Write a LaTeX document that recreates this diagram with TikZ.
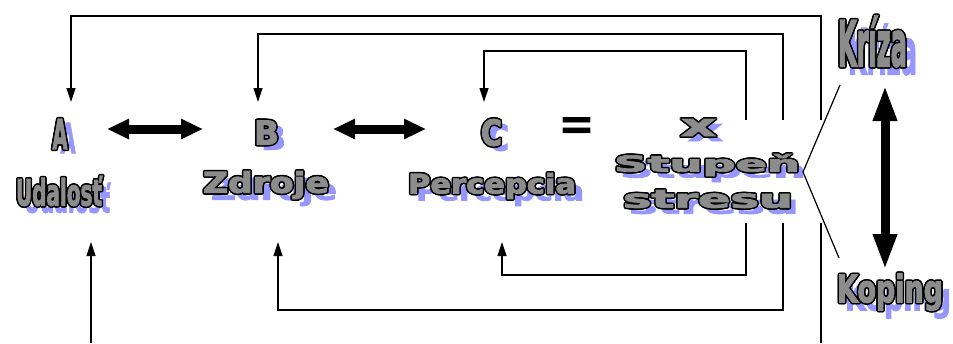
\documentclass[tikz,border=0pt]{standalone}
\usepackage{fontspec}
\setmainfont{DejaVu Sans}
\newfontface\fillfont{DejaVu Sans Bold}[FakeBold=3]
\usetikzlibrary{arrows.meta,calc}
\definecolor{shadowblue}{RGB}{150,150,255}
\definecolor{wafill}{RGB}{140,140,140}
\newcommand\wabox[3]{\resizebox*{#1pt}{#2pt}{\fillfont #3}}
\newcommand\wa[8]{%
  \node[wa shadow] at (#2+#6,#3+#7) {\wabox{#4}{#5}{#8}};
  \foreach \ang in {0,30,...,330}{\node[wa line] at ($(#2,#3)+(\ang:1.5)$) {\wabox{#4}{#5}{#8}};}
  \node[wa fill] (#1) at (#2,#3) {\wabox{#4}{#5}{#8}};
}
\begin{document}
\begin{tikzpicture}[x=1pt,y=-1pt,
  wa shadow/.style={inner sep=0pt,text=shadowblue},
  wa line/.style={inner sep=0pt,text=black},
  wa fill/.style={inner sep=0pt,text=wafill},
  loop/.style={draw,line width=1.2pt,-{Triangle[width=9pt,length=14pt]}},
  plain/.style={draw,line width=1.2pt},
  dbl/.style={line width=9pt,{Triangle[width=19pt,length=22pt]}-{Triangle[width=19pt,length=22pt]}},
  vdbl/.style={line width=9pt,{Triangle[width=22pt,length=36pt]}-{Triangle[width=22pt,length=36pt]}}]
\useasboundingbox (0,0) rectangle (953,343);
% texts
\wa{A}{60}{134}{15}{30}{8}{4}{A}
\wa{Ud}{59}{191}{86}{30}{8}{7}{Udalosť}
\wa{B}{266.5}{132.5}{25}{24}{7}{5}{B}
\wa{Zd}{266}{185}{126}{28}{8}{7}{Zdroje}
\wa{C}{491.5}{132.5}{21}{27}{7}{5}{C}
\wa{Pe}{492}{186}{168}{26}{8}{7}{Percepcia}
\wa{X}{698.5}{127.5}{35}{17}{7}{5}{x}
\wa{St}{707}{165}{186}{22}{6}{6}{Stupeň}
\wa{Sr}{708}{199}{170}{18}{6}{6}{stresu}
\wa{Kr}{872.5}{41.5}{69}{51}{10}{8}{Kríza}
\wa{Ko}{890}{292}{106}{37}{8}{8}{Koping}
\node[inner sep=0pt] (eq) at (576.5,128.5) {\resizebox{37pt}{23pt}{\bfseries =}};
% coordinates for loops
\coordinate (a1) at (821,120); \coordinate (a2) at (821,16); \coordinate (a3) at (71,16); \coordinate (aT) at (71,102);
\coordinate (b1) at (783,120); \coordinate (b2) at (783,34); \coordinate (b3) at (258,34); \coordinate (bT) at (258,102);
\coordinate (c1) at (746,120); \coordinate (c2) at (746,51); \coordinate (c3) at (484,51); \coordinate (cT) at (484,102);
\coordinate (d1) at (746,223); \coordinate (d2) at (746,275); \coordinate (d3) at (502,275); \coordinate (dT) at (502,242);
\coordinate (e1) at (783,223); \coordinate (e2) at (783,310); \coordinate (e3) at (278,310); \coordinate (eT) at (278,242);
\coordinate (f1) at (91,343); \coordinate (fT) at (91,242);
\coordinate (g1) at (821,223); \coordinate (g2) at (821,343);
\draw[loop] (a1) -- (a2) -- (a3) -- (aT);
\draw[loop] (b1) -- (b2) -- (b3) -- (bT);
\draw[loop] (c1) -- (c2) -- (c3) -- (cT);
\draw[loop] (d1) -- (d2) -- (d3) -- (dT);
\draw[loop] (e1) -- (e2) -- (e3) -- (eT);
\draw[loop] (f1) -- (fT);
\draw[plain] (g1) -- (g2);
% diagonals
\coordinate (h1) at (840,85); \coordinate (h2) at (803,172); \coordinate (h3) at (839,258);
\draw[plain] (h1) -- (h2) -- (h3);
% double arrows
\coordinate (i1) at (107,129); \coordinate (i2) at (203,129);
\coordinate (j1) at (333,129); \coordinate (j2) at (426,129);
\coordinate (k1) at (885,85); \coordinate (k2) at (885,270);
\draw[dbl] (i1) -- (i2);
\draw[dbl] (j1) -- (j2);
\draw[vdbl] (k1) -- (k2);
\end{tikzpicture}
\end{document}
